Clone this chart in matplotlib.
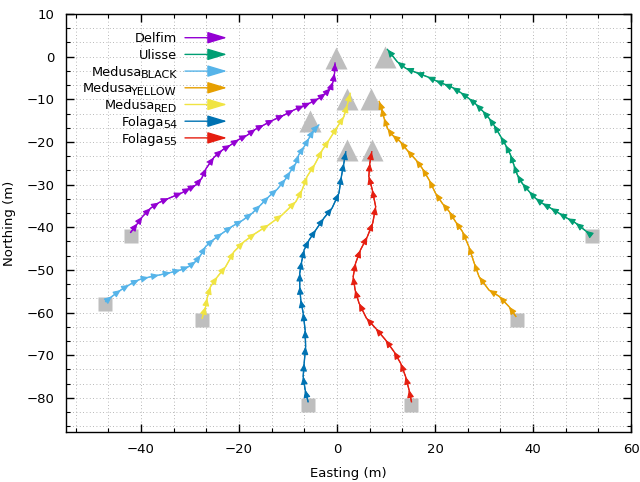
import matplotlib
matplotlib.use("Agg")
import matplotlib.pyplot as plt
from matplotlib.ticker import MultipleLocator

# trajectories (easting, northing), from start square to target triangle
delfim_x = [-42.1, -40.7, -39.7, -38.0, -36.3, -34.3, -31.6, -29.9, -28.8, -27.6, -26.7, -25.1, -23.4, -21.7, -20.0,
            -18.3, -16.6, -14.9, -12.9, -10.8, -8.8, -6.7, -5.4, -3.7, -2.3, -1.3, -0.8, -0.5, -0.4]
delfim_y = [-41.2, -39.1, -37.5, -35.5, -34.2, -33.2, -31.9, -30.8, -30.1, -28.5, -26.2, -23.6, -21.9, -20.7, -19.4,
            -18.4, -17.0, -16.0, -14.8, -13.7, -12.5, -11.5, -10.8, -9.8, -8.6, -7.4, -5.9, -3.9, -1.5]

ulisse_x = [51.8, 50.7, 48.7, 47.0, 45.3, 43.6, 41.9, 40.5, 39.2, 37.8, 36.8, 36.1, 35.4, 34.4, 33.4,
            32.0, 31.0, 29.7, 28.3, 26.9, 25.2, 23.5, 21.8, 20.1, 18.4, 16.1, 14.0, 12.3, 10.3]
ulisse_y = [-41.8, -40.8, -39.0, -37.9, -36.7, -35.5, -34.4, -33.2, -31.6, -29.7, -27.7, -25.4, -23.0, -20.7, -18.7,
            -16.0, -14.4, -12.7, -11.1, -9.8, -8.4, -7.2, -6.4, -5.6, -4.7, -3.7, -2.7, -1.2, 1.7]

black_x = [-47.2, -45.9, -44.1, -42.4, -40.4, -38.4, -36.3, -33.9, -31.9, -30.2, -28.8, -27.8, -26.8, -25.1, -23.4,
           -21.4, -19.3, -17.3, -15.6, -13.9, -12.2, -10.5, -9.5, -8.4, -7.8, -6.7, -5.7, -4.7, -3.7]
black_y = [-57.4, -56.2, -54.7, -53.5, -52.3, -51.7, -51.2, -50.6, -50.0, -49.2, -48.0, -46.5, -44.5, -42.8, -41.4,
           -39.8, -38.4, -36.7, -34.8, -32.8, -31.1, -28.7, -26.9, -25.0, -23.0, -21.1, -19.1, -17.2, -16.0]

yellow_x = [36.5, 35.1, 33.1, 31.0, 29.0, 28.0, 26.9, 25.6, 24.2, 22.9, 21.5, 20.1, 18.8, 17.4, 16.1,
            14.3, 12.9, 11.3, 10.3, 9.6, 9.1, 8.6]
yellow_y = [-60.9, -58.6, -56.2, -54.7, -51.6, -48.4, -44.5, -41.0, -38.7, -36.3, -34.4, -32.0, -28.9, -26.2, -24.2,
            -21.9, -19.9, -18.4, -16.8, -14.4, -12.1, -10.5]

red_x = [-27.5, -26.8, -26.5, -25.8, -24.4, -22.7, -21.0, -19.0, -16.6, -13.9, -11.2, -8.4, -7.1, -6.1, -4.5,
         -3.0, -1.6, 0.1, 1.4, 2.1, 2.7]
red_y = [-61.3, -58.6, -56.6, -53.9, -51.6, -49.2, -45.7, -43.4, -41.4, -39.4, -37.1, -34.0, -31.2, -28.1, -25.2,
         -21.9, -19.5, -16.4, -14.1, -11.3, -8.6]

f54_x = [-5.9, -6.5, -6.9, -6.7, -6.4, -6.5, -6.9, -7.4, -7.6, -7.6, -7.2, -6.7, -5.7, -4.3, -2.7,
         -1.0, 0.4, 0.9, 1.4, 1.8]
f54_y = [-80.9, -78.1, -75.0, -71.9, -68.0, -64.1, -60.1, -57.0, -53.9, -50.8, -48.0, -45.3, -43.0, -40.6, -37.9,
         -35.5, -32.0, -28.1, -25.0, -22.3]

f55_x = [15.2, 14.7, 14.0, 13.0, 11.6, 9.9, 7.9, 6.0, 4.5, 3.7, 3.3, 3.8, 4.8, 6.2, 7.3,
         7.9, 7.2, 6.5, 6.7, 7.1]
f55_y = [-80.9, -78.1, -75.0, -71.9, -69.1, -66.4, -63.7, -61.3, -57.8, -54.7, -51.6, -48.4, -45.3, -42.2, -39.0,
         -35.2, -31.2, -28.1, -25.0, -22.3]

# start squares and target triangles
start_x = [-42, 52, -47.3, 36.7, -27.6, -5.9, 15.1]
start_y = [-42, -42, -57.9, -61.7, -61.7, -81.6, -81.6]
target_x = [-0.3, 9.8, -5.5, 6.9, 2.1, 2.1, 7.1]
target_y = [-0.3, 0, -15, -10, -10, -22, -22]

names = ["Delfim", "Ulisse", "Medusa", "Medusa", "Medusa", "Folaga", "Folaga"]
subs = ["", "", "BLACK", "YELLOW", "RED", "54", "55"]
colors = ["#9400d3", "#009e73", "#56b4e9", "#e69f00", "#f0e442", "#0072b2", "#e51e10"]
paths = [(delfim_x, delfim_y), (ulisse_x, ulisse_y), (black_x, black_y), (yellow_x, yellow_y),
         (red_x, red_y), (f54_x, f54_y), (f55_x, f55_y)]

plt.rcParams['font.family'] = 'DejaVu Sans'
plt.rcParams['font.size'] = 9.5

fig = plt.figure(figsize=(6.4, 4.82), dpi=100)
ax_w, ax_h = 565, 418
ax = fig.add_axes([66/640, 50/482, ax_w/640, ax_h/482])

ax.plot(start_x, start_y, 's', color='#bebebe', ms=10, mec='none', zorder=2)
ax.plot(target_x, target_y, '^', color='#bebebe', ms=16, mec='none', zorder=2)

for (px, py), c in zip(paths, colors):
    ax.plot(px, py, '-', color=c, lw=1, zorder=3)
    for i in range(1, len(px)):
        ax.annotate('', xy=(px[i], py[i]), xytext=(px[i-1], py[i-1]),
                    arrowprops=dict(arrowstyle='-|>,head_length=0.45,head_width=0.2', color=c,
                                    lw=0.8, mutation_scale=10, shrinkA=0, shrinkB=0),
                    zorder=4)

# legend drawn by hand: text right aligned (gnuplot-like subscripts), arrow sample after it
renderer = fig.canvas.get_renderer()
x_right = 0.1965
for i, (n, s, c) in enumerate(zip(names, subs, colors)):
    yc = 0.9433 - i * 0.03995
    base = yc - 4.7 / ax_h
    x_main = x_right
    if s:
        t = ax.text(x_right, base - 2.5 / ax_h, s, ha='right', va='baseline',
                    transform=ax.transAxes, fontsize=8)
        w = t.get_window_extent(renderer).width
        x_main = x_right - (w - 1.5) / ax_w
    ax.text(x_main, base, n, ha='right', va='baseline', transform=ax.transAxes, fontsize=9.3)
    ax.annotate('', xy=(0.285, yc), xytext=(0.2106, yc), xycoords='axes fraction',
                arrowprops=dict(arrowstyle='-|>,head_length=1.2,head_width=0.36', color=c,
                                lw=1, mutation_scale=10, shrinkA=0, shrinkB=0))

ax.set_xlim(-55.3, 60)
ax.set_ylim(-88, 10)
ax.xaxis.set_major_locator(MultipleLocator(20))
ax.xaxis.set_minor_locator(MultipleLocator(20/3))
ax.yaxis.set_major_locator(MultipleLocator(10))
ax.yaxis.set_minor_locator(MultipleLocator(10/3))
ax.tick_params(which='both', direction='in', top=True, right=True)
ax.tick_params(which='major', length=6, width=1, pad=8)
ax.tick_params(which='minor', length=3, width=0.8)
ax.grid(which='both', linestyle=(0, (1, 3)), color='#a0a0a0', lw=0.6)
ax.set_axisbelow(True)
for sp in ax.spines.values():
    sp.set_linewidth(1)

ax.set_xlabel("Easting (m)", labelpad=8)
ax.set_ylabel("Northing (m)", labelpad=8)

fig.savefig("out.png", dpi=100)
